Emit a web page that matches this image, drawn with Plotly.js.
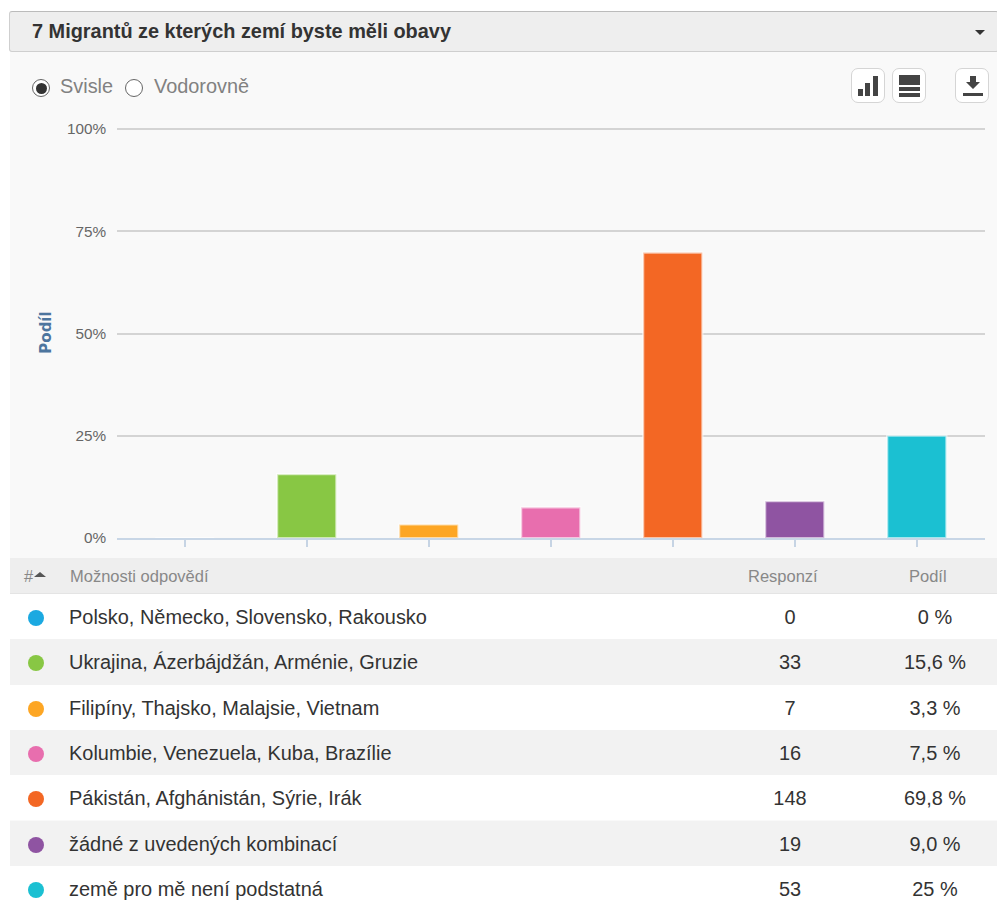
<!DOCTYPE html>
<html><head><meta charset="utf-8">
<script src="https://cdn.plot.ly/plotly-3.0.1.min.js"></script>
<style>
html,body{margin:0;padding:0;background:#fff;width:997px;height:909px;overflow:hidden;font-family:"Liberation Sans",Arial,sans-serif}
#panel{position:absolute;left:10px;top:51px;width:987px;height:858px;background:#f9f9f9}
#head{position:absolute;left:9px;top:11px;width:988px;height:39px;background:#eeeeee;border:1px solid #cfcfcf;border-top:1px solid #bbb;border-radius:3px;box-sizing:content-box}
#head .t{position:absolute;left:22px;top:8px;font-size:19.9px;font-weight:bold;color:#333;white-space:nowrap}
#caret{position:absolute;left:975px;top:30px;width:0;height:0;border-left:5px solid transparent;border-right:5px solid transparent;border-top:5px solid #333}
#chart{position:absolute;left:0;top:0;width:997px;height:558px}
.radio{position:absolute;top:79px;width:18px;height:18px;border:1px solid #666;border-radius:50%;background:#fff;box-sizing:border-box}
.radio i{position:absolute;left:2.5px;top:2.5px;width:11px;height:11px;border-radius:50%;background:#333}
.rl{position:absolute;top:75px;font-size:19.9px;color:#818181;white-space:nowrap}
.btn{position:absolute;top:68px;width:34px;height:35px;background:#fff;border:1px solid #d5d5d5;border-radius:7px;box-sizing:border-box}
.btn svg{position:absolute;left:0;top:0}
.r{position:absolute;left:10px;width:987px;box-sizing:border-box}
.r span{position:absolute;white-space:nowrap}
.hd{top:558px;height:36px;background:#eeeeee;border-bottom:1px solid #e4e4e4;color:#888;font-size:16.5px}
.hd span{top:9px}
.row{height:45.3px;font-size:19.95px;color:#333}
.row span{top:12px}
.dot{width:16px;height:16px;border-radius:50%;top:16px !important}
</style></head><body>
<div id="panel"></div>
<div id="chart"></div>
<div id="head"><div class="t">7 Migrantů ze kterých zemí byste měli obavy</div></div>
<div id="caret"></div>
<div class="radio" style="left:32px"><i></i></div><div class="rl" style="left:60px">Svisle</div>
<div class="radio" style="left:125px"></div><div class="rl" style="left:154px">Vodorovně</div>
<div class="btn" style="left:851px"><svg width="34" height="35"><g fill="#444"><rect x="6" y="20" width="5" height="7"/><rect x="13" y="14" width="5" height="13"/><rect x="21" y="7" width="5" height="20"/></g></svg></div>
<div class="btn" style="left:892px"><svg width="34" height="35"><g fill="#444"><rect x="6" y="6" width="21" height="10"/><rect x="6" y="18" width="21" height="4"/><rect x="6" y="24" width="21" height="4"/></g></svg></div>
<div class="btn" style="left:955px"><svg width="34" height="35"><g fill="#444"><polygon points="14,7 20,7 20,13 24,13 17,20 10,13 14,13"/><rect x="7" y="24" width="20" height="3"/></g></svg></div>
<div id="rows"></div>
<script>
const categories = ["Polsko, Německo, Slovensko, Rakousko","Ukrajina, Ázerbájdžán, Arménie, Gruzie","Filipíny, Thajsko, Malajsie, Vietnam","Kolumbie, Venezuela, Kuba, Brazílie","Pákistán, Afghánistán, Sýrie, Irák","žádné z uvedených kombinací","země pro mě není podstatná"];
const responses = [0,33,7,16,148,19,53];
const shares = [0,15.6,3.3,7.5,69.8,9.0,25];
const shareLabels = ["0 %","15,6 %","3,3 %","7,5 %","69,8 %","9,0 %","25 %"];
const colors = ["#1ba9e1","#88c744","#fda624","#e86eae","#f36724","#8f54a2","#1bc0d2"];
const yTicks = [0,25,50,75,100];
const yTickLabels = ["0%","25%","50%","75%","100%"];

Plotly.newPlot("chart",[{
  type:"bar",x:categories,y:shares,width:0.485,
  marker:{color:colors,line:{width:2.2,color:"rgba(255,255,255,0.6)"}},hoverinfo:"x+y"
}],{
  width:997,height:558,showlegend:false,
  margin:{l:117,r:12,t:126.9,b:20.4,pad:0},
  paper_bgcolor:"rgba(0,0,0,0)",plot_bgcolor:"rgba(0,0,0,0)",
  font:{family:'"Liberation Sans",Arial,sans-serif'},
  xaxis:{type:"category",categoryorder:"array",categoryarray:categories,range:[-0.555,6.559],
    showticklabels:false,ticks:"outside",ticklen:7,tickwidth:1.5,tickcolor:"#c6d4e4",
    showline:true,linecolor:"#c8d6e6",linewidth:2,showgrid:false,zeroline:false,fixedrange:true},
  yaxis:{range:[0,100.5],tickmode:"array",tickvals:yTicks,ticktext:yTickLabels,
    tickfont:{size:15.3,color:"#666"},ticks:"",ticklabelstandoff:10,
    showgrid:true,gridcolor:"#d4d4d4",gridwidth:1.5,zeroline:false,showline:false,fixedrange:true,
    title:{text:"<b>Podíl</b>",font:{size:15,color:"#4d759e",family:'"DejaVu Sans",sans-serif'},standoff:11}}
},{displayModeBar:false});

const rows=document.getElementById("rows");
let h='<div class="r hd"><span style="left:14px">#</span><span style="left:24px;top:14px;width:0;height:0;border-left:6px solid transparent;border-right:6px solid transparent;border-bottom:5px solid #555"></span><span style="left:60px">Možnosti odpovědí</span><span style="left:738px">Responzí</span><span style="left:899px">Podíl</span></div>';
categories.forEach((c,i)=>{
  h+=`<div class="r row" style="top:${594+i*45.3}px;background:${i%2?'#f2f2f2':'#fff'}">
  <span class="dot" style="left:18px;background:${colors[i]}"></span>
  <span style="left:59px">${c}</span>
  <span style="left:680px;width:200px;text-align:center">${responses[i]}</span>
  <span style="left:825px;width:200px;text-align:center">${shareLabels[i]}</span></div>`;
});
rows.innerHTML=h;
</script>
</body></html>
